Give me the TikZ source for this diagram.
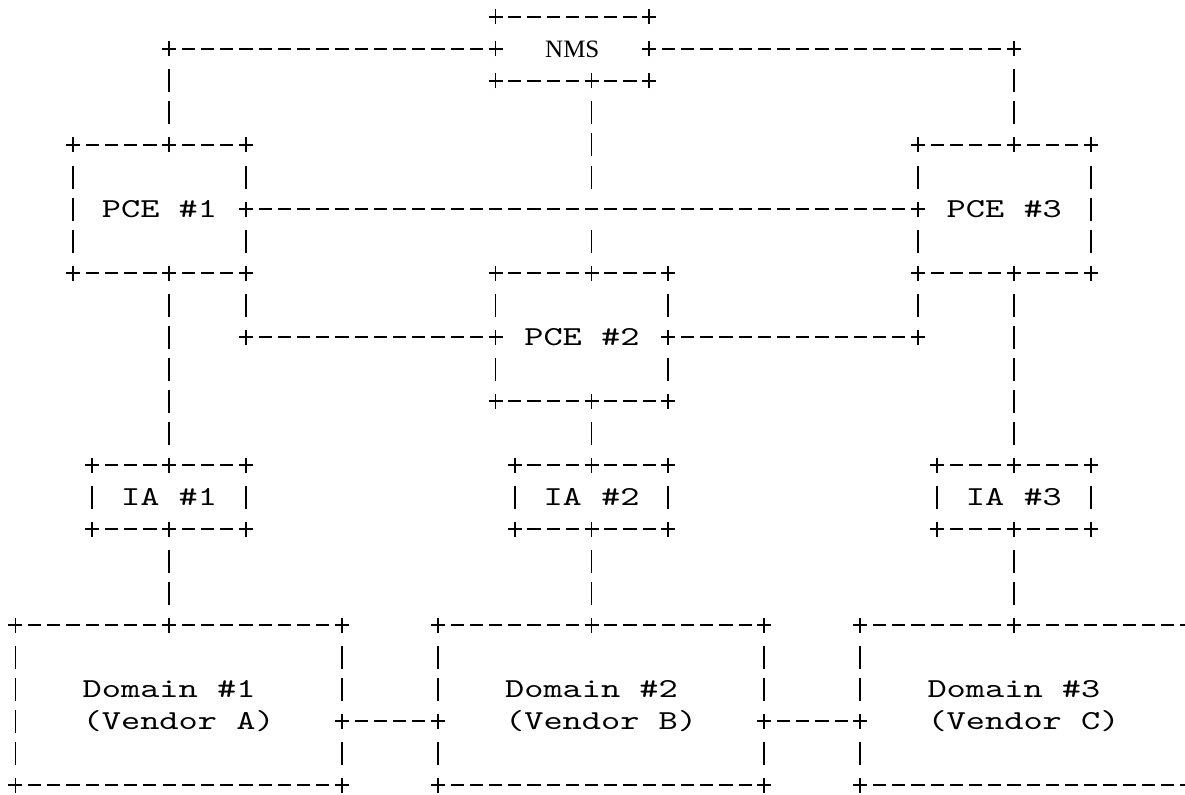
\documentclass[tikz,border=0pt]{standalone}
\usepackage{fontspec}
\usepackage{tikz}
\usetikzlibrary{calc}
\newfontfamily\asciifont[FakeStretch=1.335]{lmmono10-regular.otf}
\newfontfamily\nmsfont{Liberation Serif}

\begin{document}
\begin{tikzpicture}[x=9.6pt,y=-16pt,
        hline/.style={line width=1pt,dash pattern=on 6.6pt off 3pt,shorten <=6.3pt,shorten >=6.3pt},
        vline/.style={line width=0.9pt,dash pattern=on 11.5pt off 4.5pt,shorten <=10.25pt,shorten >=10.25pt},
        asciibox/.style 2 args={rectangle,inner sep=0pt,outer sep=0pt,minimum width=#1*9.6pt,minimum height=#2*16pt,
            font=\asciifont\fontsize{13.7pt}{16pt}\selectfont,text height=8.35pt,text depth=0pt},
        crossmark/.pic={\draw[line width=0.85pt] (-3.5pt,0) -- (3.5pt,0) (0,-3.75pt) -- (0,3.75pt);}]
    \useasboundingbox (-0.807,-0.531) rectangle (60.91,24.281);
    \clip (-0.807,-0.531) rectangle (60.91,24.281);

    \node[asciibox={8}{2},font=\nmsfont\fontsize{12.5pt}{14pt}\selectfont,text height=8.2pt] (nms) at (29,1) {NMS};
    \node[asciibox={9}{4}] (pce1) at (7.5,6) {PCE \#1};
    \node[asciibox={9}{4}] (pce2) at (29.5,10) {PCE \#2};
    \node[asciibox={9}{4}] (pce3) at (51.5,6) {PCE \#3};
    \node[asciibox={8}{2}] (ia1) at (8,15) {IA \#1};
    \node[asciibox={8}{2}] (ia2) at (30,15) {IA \#2};
    \node[asciibox={8}{2}] (ia3) at (52,15) {IA \#3};
    \node[asciibox={17}{5},align=left,text height=24.35pt] (dom1) at (8.5,21.5) {Domain \#1\\(Vendor A)};
    \node[asciibox={17}{5},align=left,text height=24.35pt] (dom2) at (30.5,21.5) {Domain \#2\\(Vendor B)};
    \node[asciibox={17}{5},align=left,text height=24.35pt] (dom3) at (52.5,21.5) {Domain \#3\\(Vendor C)};

    \foreach \b in {nms,pce1,pce2,pce3,ia1,ia2,ia3,dom1,dom2,dom3} {
        \draw[hline] (\b.north west) -- (\b.north east);
        \draw[hline] (\b.south west) -- (\b.south east);
    }
    \foreach \b in {pce1,ia1,ia2,ia3,dom1}
        \draw[vline] (\b.north west) -- (\b.south west);
    \foreach \b in {pce3,ia1,ia2,ia3,dom3}
        \draw[vline] (\b.north east) -- (\b.south east);
    \draw[vline] (pce1.north east) -- (pce1.east);
    \draw[vline] (pce1.east) -- (pce1.south east);
    \draw[vline] (pce3.north west) -- (pce3.west);
    \draw[vline] (pce3.west) -- (pce3.south west);
    \draw[vline] (pce2.north west) -- (pce2.west);
    \draw[vline] (pce2.west) -- (pce2.south west);
    \draw[vline] (pce2.north east) -- (pce2.east);
    \draw[vline] (pce2.east) -- (pce2.south east);

    \coordinate (v12) at ($(dom1.east)+(0,0.5)$);
    \coordinate (v23) at ($(dom2.east)+(0,0.5)$);
    \draw[vline] (dom1.north east) -- (v12);
    \draw[vline] (v12) -- (dom1.south east);
    \draw[vline] (dom2.north west) -- (v12 -| dom2.west);
    \draw[vline] (v12 -| dom2.west) -- (dom2.south west);
    \draw[vline] (dom2.north east) -- (v23);
    \draw[vline] (v23) -- (dom2.south east);
    \draw[vline] (dom3.north west) -- (v23 -| dom3.west);
    \draw[vline] (v23 -| dom3.west) -- (dom3.south west);
    \draw[hline] (v12) -- (v12 -| dom2.west);
    \draw[hline] (v23) -- (v23 -| dom3.west);

    \draw[hline] (nms.west) -- (nms.west -| ia1.north);
    \draw[vline] (nms.west -| ia1.north) -- (ia1.north |- pce1.north);
    \draw[hline] (nms.east) -- (nms.east -| ia3.north);
    \draw[vline] (nms.east -| ia3.north) -- (ia3.north |- pce3.north);
    \draw[vline] (ia2.north |- nms.south) -- (ia2.north |- pce1.east);
    \draw[vline] (ia2.north |- pce1.east) -- (ia2.north |- pce2.north);
    \draw[hline] (pce1.east) -- (pce3.west);
    \draw[vline] (pce1.south east) -- (pce1.south east |- pce2.west);
    \draw[hline] (pce1.south east |- pce2.west) -- (pce2.west);
    \draw[vline] (pce3.south west) -- (pce3.south west |- pce2.east);
    \draw[hline] (pce3.south west |- pce2.east) -- (pce2.east);
    \draw[vline] (ia1.north |- pce1.south) -- (ia1.north);
    \draw[vline] (ia2.north |- pce2.south) -- (ia2.north);
    \draw[vline] (ia3.north |- pce3.south) -- (ia3.north);
    \draw[vline] (ia1.south) -- (ia1.south |- dom1.north);
    \draw[vline] (ia2.south) -- (ia2.south |- dom2.north);
    \draw[vline] (ia3.south) -- (ia3.south |- dom3.north);

    \foreach \c/\r in {25/0,33/0,8/1,25/1,33/1,52/1,25/2,30/2,33/2,
            3/4,8/4,12/4,47/4,52/4,56/4,12/6,47/6,
            3/8,8/8,12/8,25/8,30/8,34/8,47/8,52/8,56/8,
            12/10,25/10,34/10,47/10,25/12,30/12,34/12,
            4/14,8/14,12/14,26/14,30/14,34/14,48/14,52/14,56/14,
            4/16,8/16,12/16,26/16,30/16,34/16,48/16,52/16,56/16,
            0/19,8/19,17/19,22/19,30/19,39/19,44/19,52/19,61/19,
            17/22,22/22,39/22,44/22,
            0/24,17/24,22/24,39/24,44/24,61/24}
        \path (\c,\r) pic{crossmark};
\end{tikzpicture}
\end{document}
